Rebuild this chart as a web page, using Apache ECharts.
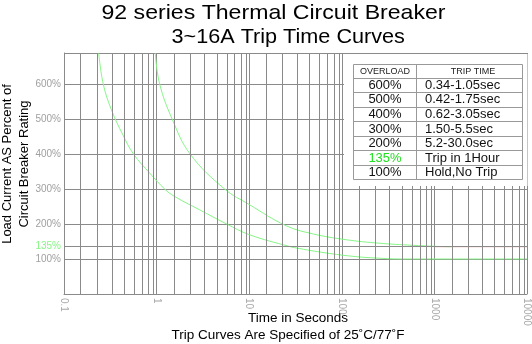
<!DOCTYPE html>
<html><head><meta charset="utf-8">
<script src="https://cdn.jsdelivr.net/npm/echarts@6/dist/echarts.min.js"></script>
<style>html,body{margin:0;padding:0;background:#fff}#c{width:532px;height:344px}</style>
</head><body><div id="c"></div>
<script>
// ---- data ----
const titleLines = ['92 series Thermal Circuit Breaker', '3~16A Trip Time Curves'];
const yAxisTitle = 'Load Current AS Percent of\nCircuit Breaker Rating';
const xAxisTitle = 'Time in Seconds';
const noteText = 'Trip Curves Are Specified of 25\u02DAC/77\u02DAF';
const xTickLabels = [0.1, 1, 10, 100, 1000, 10000];
const yTickLabels = [100, 200, 300, 400, 500, 600];
const minorMultipliers = [1.542, 2.301, 3.289, 4.467, 5.728, 6.966, 8.222, 9.29];
const markLevel = 135;

// fast (minimum) trip curve
const lowerTime = [0.237, 0.265, 0.325, 0.433, 0.565, 0.844, 1.218, 1.562, 2.906, 5.638, 10.06, 27.15, 34.8, 73.3, 142, 234, 417, 10000];
const lowerPct  = [688, 600, 526, 454, 399, 345, 300, 278.5, 240.5, 200.6, 169.2, 135.8, 129.8, 115.8, 106.7, 102.7, 100, 100];
// slow (maximum) trip curve
const upperTime = [0.967, 1.078, 1.475, 2.31, 5.41, 10.06, 25.0, 48.1, 111, 254, 575, 1037, 1500];
const upperPct  = [688, 600, 499, 399, 300, 255, 195, 172, 155, 145, 139.2, 136, 135];
// 1 hour hold line at 135%
const holdTime = [1000, 10000];
const holdPct  = [135, 135];

const tableHead = ['OVERLOAD', 'TRIP TIME'];
const tableOverload = ['600%', '500%', '400%', '300%', '200%', '135%', '100%'];
const tableTrip = ['0.34-1.05sec', '0.42-1.75sec', '0.62-3.05sec', '1.50-5.5sec', '5.2-30.0sec', 'Trip in 1Hour', 'Hold,No Trip'];

// ---- build ----
const zip = (a, b) => a.map((v, i) => [v, b[i]]);
const FONT = '"Liberation Sans", Arial, sans-serif';
const GRID = '#8a8a8a';
const GREEN = '#86f586';

const vLines = [];
for (let d = 0.1; d < 10000; d *= 10) {
  minorMultipliers.forEach(m => vLines.push({ xAxis: +(d * m).toPrecision(6) }));
}

const chart = echarts.init(document.getElementById('c'), null, { renderer: 'canvas' });

// table graphics
const tX0 = 353.5, tX1 = 522.5, tXm = 416.5, tY0 = 64.5, tYh = 77.5, tY1 = 179.5;
const rowH = (tY1 - tYh) / tableOverload.length;
const tableEls = [
  { type: 'rect', shape: { x: 344, y: 54, width: 183.5, height: 132 }, style: { fill: '#fff' }, z: 10 },
  { type: 'rect', shape: { x: tX0, y: tY0, width: tX1 - tX0, height: tY1 - tY0 }, style: { fill: 'none', stroke: '#999', lineWidth: 1 }, z: 11 },
  { type: 'line', shape: { x1: tXm, y1: tY0, x2: tXm, y2: tY1 }, style: { stroke: '#999', lineWidth: 1 }, z: 11 },
  { type: 'text', x: (tX0 + tXm) / 2, y: (tY0 + tYh) / 2 + 0.5, style: { text: tableHead[0], font: '9px ' + FONT, fill: '#222', align: 'center', verticalAlign: 'middle' }, z: 12 },
  { type: 'text', x: 473, y: (tY0 + tYh) / 2 + 0.5, style: { text: tableHead[1], font: '9px ' + FONT, fill: '#222', align: 'center', verticalAlign: 'middle' }, z: 12 }
];
for (let i = 0; i <= tableOverload.length - 1; i++) {
  const y = Math.round(tYh + i * rowH) + 0.5;
  tableEls.push({ type: 'line', shape: { x1: tX0, y1: y, x2: tX1, y2: y }, style: { stroke: '#999', lineWidth: 1 }, z: 11 });
}
tableOverload.forEach((t, i) => {
  const cy = tYh + (i + 0.5) * rowH + 0.5;
  tableEls.push({ type: 'text', x: (tX0 + tXm) / 2, y: cy, style: { text: t, font: '13px ' + FONT, fill: t === markLevel + '%' ? '#22e022' : '#111', align: 'center', verticalAlign: 'middle' }, z: 12 });
  tableEls.push({ type: 'text', x: 425, y: cy, style: { text: tableTrip[i], font: '13px ' + FONT, fill: '#111', align: 'left', verticalAlign: 'middle' }, z: 12 });
});

const option = {
  animation: false,
  backgroundColor: '#fff',
  grid: { left: 64, right: 4, top: 53, bottom: 50, containLabel: false },
  xAxis: {
    type: 'log', logBase: 10, min: 0.1, max: 10000,
    axisLine: { show: true, lineStyle: { color: GRID } },
    axisTick: { show: false },
    splitLine: { show: true, lineStyle: { color: GRID, width: 1 } },
    minorSplitLine: { show: false },
    axisLabel: {
      rotate: -90, color: '#a8a8a8', fontSize: 10, fontFamily: FONT, margin: 4,
      formatter: v => (xTickLabels.some(t => Math.abs(t - v) / t < 1e-6) ? String(+v.toPrecision(6)) : '')
    }
  },
  yAxis: {
    type: 'value', min: 0, max: 688, interval: 100,
    axisLine: { show: true, lineStyle: { color: GRID } },
    axisTick: { show: false },
    splitLine: { show: true, lineStyle: { color: GRID, width: 1 } },
    axisLabel: {
      color: '#a0a0a0', fontSize: 10, fontFamily: FONT, margin: 3, showMaxLabel: false, showMinLabel: false,
      formatter: v => (yTickLabels.indexOf(v) >= 0 ? v + '%' : '')
    }
  },
  series: [
    {
      type: 'line', data: zip(holdTime, holdPct), symbol: 'none', z: 3,
      lineStyle: { color: '#f4a0a0', width: 1 },
      markLine: {
        silent: true, symbol: 'none', animation: false,
        lineStyle: { color: GRID, width: 1, type: 'solid' },
        label: { show: false },
        data: vLines.concat([{ yAxis: markLevel, label: { show: true, position: 'start', formatter: markLevel + '%', color: GREEN, fontSize: 10, fontFamily: FONT, distance: 3 } }])
      }
    },
    {
      type: 'line', data: zip(lowerTime, lowerPct), symbol: 'none', smooth: 0.4, z: 4,
      lineStyle: { color: GREEN, width: 1 }
    },
    {
      type: 'line', data: zip(upperTime, upperPct), symbol: 'none', smooth: 0.4, z: 4,
      lineStyle: { color: GREEN, width: 1 }
    }
  ],
  graphic: [
    { type: 'text', x: 101.5, y: 13.5, scaleX: 1.1, style: { text: titleLines[0], font: '21px ' + FONT, fill: '#000', align: 'left', verticalAlign: 'middle' } },
    { type: 'text', x: 171.5, y: 37.5, scaleX: 1.03, style: { text: titleLines[1], font: '21px ' + FONT, fill: '#000', align: 'left', verticalAlign: 'middle' } },
    { type: 'text', x: 16, y: 164, rotation: Math.PI / 2, style: { text: yAxisTitle, font: '13px ' + FONT, fill: '#000', align: 'center', verticalAlign: 'middle', lineHeight: 16.5 } },
    { type: 'text', x: 298, y: 318, style: { text: xAxisTitle, font: '13.5px ' + FONT, fill: '#000', align: 'center', verticalAlign: 'middle' } },
    { type: 'text', x: 288, y: 335, style: { text: noteText, font: '13.5px ' + FONT, fill: '#000', align: 'center', verticalAlign: 'middle' } }
  ].concat(tableEls)
};
chart.setOption(option);
</script></body></html>
